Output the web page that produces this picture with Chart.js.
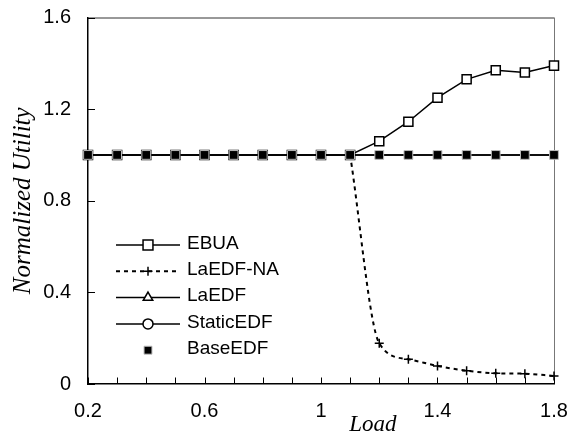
<!DOCTYPE html>
<html>
<head>
<meta charset="utf-8">
<script src="https://cdn.jsdelivr.net/npm/chart.js@4.4.1/dist/chart.umd.min.js"></script>
<style>
  html, body { margin: 0; padding: 0; background: #fff; }
</style>
</head>
<body>
<canvas id="chart" width="581" height="437"></canvas>
<script>
// Data
const loads = [0.2, 0.3, 0.4, 0.5, 0.6, 0.7, 0.8, 0.9, 1.0, 1.1, 1.2, 1.3, 1.4, 1.5, 1.6, 1.7, 1.8]
const ebua = [1.0, 1.0, 1.0, 1.0, 1.0, 1.0, 1.0, 1.0, 1.0, 1.0, 1.06, 1.145, 1.25, 1.33, 1.37, 1.36, 1.39]
const laedfNa = [null, null, null, null, null, null, null, null, null, 1.0, 0.178, 0.108, 0.079, 0.058, 0.047, 0.045, 0.035]
const laedf = [1.0, 1.0, 1.0, 1.0, 1.0, 1.0, 1.0, 1.0, 1.0, 1.0, 1.0, 1.0, 1.0, 1.0, 1.0, 1.0, 1.0]
const staticEdf = [1.0, 1.0, 1.0, 1.0, 1.0, 1.0, 1.0, 1.0, 1.0, 1.0, 1.0, 1.0, 1.0, 1.0, 1.0, 1.0, 1.0]
const baseEdf = [1.0, 1.0, 1.0, 1.0, 1.0, 1.0, 1.0, 1.0, 1.0, 1.0, 1.0, 1.0, 1.0, 1.0, 1.0, 1.0, 1.0]
const xLabelTicks = [0.2, 0.6, 1.0, 1.4, 1.8]
const yTicks = [0, 0.4, 0.8, 1.2, 1.6]

const toPoints = arr => loads.map((x, i) => ({ x: x, y: arr[i] }))
const sansFont = "'Liberation Sans', Arial, sans-serif"
const serifFont = "'Liberation Serif', 'Times New Roman', serif"

// frame (top/right) and inward tick marks
const framePlugin = {
  id: 'frame',
  beforeDatasetsDraw(chart) {
    const { ctx, chartArea: a, scales } = chart
    ctx.save()
    ctx.lineWidth = 1
    ctx.strokeStyle = '#333'
    ctx.beginPath()
    ctx.moveTo(a.left, a.top + 0.5)
    ctx.lineTo(a.right, a.top + 0.5)
    ctx.stroke()
    ctx.strokeStyle = '#777'
    ctx.beginPath()
    ctx.moveTo(a.right + 0.5, a.top)
    ctx.lineTo(a.right + 0.5, a.bottom)
    ctx.stroke()

    ctx.strokeStyle = '#000'
    ctx.lineWidth = 1
    scales.x.ticks.forEach(t => {
      const px = Math.round(scales.x.getPixelForValue(t.value)) + 0.5
      ctx.beginPath()
      ctx.moveTo(px, a.bottom)
      ctx.lineTo(px, a.bottom - 6.5)
      ctx.stroke()
    })
    scales.y.ticks.forEach(t => {
      const py = Math.round(scales.y.getPixelForValue(t.value)) + 0.5
      ctx.beginPath()
      ctx.moveTo(a.left, py)
      ctx.lineTo(a.left + 7, py)
      ctx.stroke()
    })
    ctx.restore()
  },
  afterDraw(chart) {
    // x axis title sits between the 1 and 1.4 labels in the reference
    const { ctx, scales } = chart
    ctx.save()
    ctx.font = 'italic 23px ' + serifFont
    ctx.fillStyle = '#000'
    ctx.textAlign = 'center'
    ctx.textBaseline = 'alphabetic'
    ctx.fillText('Load', scales.x.getPixelForValue(1.178), 431)
    ctx.restore()
  }
}

// legend with line + marker samples, placed inside the plot
const legendPlugin = {
  id: 'innerLegend',
  afterDraw(chart, args, opts) {
    const { ctx } = chart
    ctx.save()
    chart.data.datasets.forEach((ds, i) => {
      const y = opts.top + i * opts.step
      ctx.setLineDash(ds.borderDash || [])
      if (ds.showLine !== false) {
        ctx.strokeStyle = '#000'
        ctx.lineWidth = ds.borderWidth
        ctx.beginPath()
        ctx.moveTo(opts.x0, y)
        ctx.lineTo(opts.x1, y)
        ctx.stroke()
      }
      ctx.setLineDash([])
      ctx.fillStyle = ds.pointBackgroundColor
      ctx.strokeStyle = ds.pointBorderColor
      ctx.lineWidth = ds.pointBorderWidth
      Chart.helpers.drawPoint(ctx, {
        pointStyle: ds.pointStyle,
        radius: ds.legendRadius,
        rotation: 0,
        borderWidth: ds.pointBorderWidth
      }, (opts.x0 + opts.x1) / 2, y)
      ctx.fillStyle = '#000'
      ctx.font = '19px ' + sansFont
      ctx.textAlign = 'left'
      ctx.textBaseline = 'middle'
      ctx.fillText(ds.label, opts.textX, y - 1.5)
    })
    ctx.restore()
  }
}

new Chart(document.getElementById('chart'), {
  type: 'line',
  data: {
    datasets: [
      {
        label: 'EBUA',
        data: toPoints(ebua),
        borderColor: '#000',
        borderWidth: 1.5,
        pointStyle: 'rect',
        pointRadius: 6.4,
        legendRadius: 7,
        pointBackgroundColor: '#fff',
        pointBorderColor: '#000',
        pointBorderWidth: 1.5,
        tension: 0,
        clip: false,
        order: 1
      },
      {
        label: 'LaEDF-NA',
        data: toPoints(laedfNa),
        borderColor: '#000',
        borderWidth: 2,
        borderDash: [4, 4],
        pointStyle: 'cross',
        pointRadius: 4.5,
        legendRadius: 4.5,
        pointBackgroundColor: '#000',
        pointBorderColor: '#000',
        pointBorderWidth: 1.5,
        cubicInterpolationMode: 'monotone',
        clip: false,
        order: 2
      },
      {
        label: 'LaEDF',
        data: toPoints(laedf),
        borderColor: '#000',
        borderWidth: 1.5,
        pointStyle: 'triangle',
        pointRadius: 3.5,
        legendRadius: 5.5,
        pointBackgroundColor: '#fff',
        pointBorderColor: '#000',
        pointBorderWidth: 1.5,
        tension: 0,
        clip: false,
        order: 3
      },
      {
        label: 'StaticEDF',
        data: toPoints(staticEdf),
        borderColor: '#000',
        borderWidth: 1.5,
        pointStyle: 'circle',
        pointRadius: 3.5,
        legendRadius: 5,
        pointBackgroundColor: '#fff',
        pointBorderColor: '#000',
        pointBorderWidth: 1.5,
        tension: 0,
        clip: false,
        order: 4
      },
      {
        label: 'BaseEDF',
        data: toPoints(baseEdf),
        showLine: false,
        borderColor: '#000',
        borderWidth: 1,
        pointStyle: 'rect',
        pointRadius: 6.2,
        legendRadius: 5.6,
        pointBackgroundColor: '#000',
        pointBorderColor: '#bbb',
        pointBorderWidth: 1,
        clip: false,
        order: 0
      }
    ]
  },
  options: {
    responsive: false,
    animation: false,
    events: [],
    layout: { padding: { top: 17.5, right: 27, left: 0, bottom: 0 } },
    plugins: {
      legend: { display: false },
      tooltip: { enabled: false },
      innerLegend: { x0: 116, x1: 180, textX: 187, top: 245, step: 26.3 }
    },
    scales: {
      x: {
        type: 'linear',
        min: 0.2,
        max: 1.8,
        afterFit: s => {
          s.height = 53
          s.paddingLeft = 0
          s.paddingRight = 0
        },
        afterBuildTicks: s => {
          s.ticks = loads.map(v => ({ value: v }))
        },
        grid: { display: false, drawTicks: false },
        border: { display: true, color: '#000', width: 1.5 },
        ticks: {
          autoSkip: false,
          maxRotation: 0,
          padding: 15,
          color: '#000',
          font: { family: sansFont, size: 20 },
          callback: v => xLabelTicks.some(t => Math.abs(t - v) < 1e-6) ? String(Math.round(v * 10) / 10) : ''
        }
      },
      y: {
        type: 'linear',
        min: 0,
        max: 1.6,
        afterFit: s => {
          s.width = 88
          s.paddingTop = 0
          s.paddingBottom = 0
        },
        afterBuildTicks: s => {
          s.ticks = yTicks.map(v => ({ value: v }))
        },
        grid: { display: false, drawTicks: false },
        border: { display: true, color: '#000', width: 1.5 },
        title: {
          display: true,
          text: 'Normalized Utility',
          color: '#000',
          font: { family: serifFont, size: 25, style: 'italic' },
          padding: { top: 8, bottom: 0 }
        },
        ticks: {
          padding: 17,
          color: '#000',
          font: { family: sansFont, size: 20 },
          callback: v => String(Math.round(v * 10) / 10)
        }
      }
    }
  },
  plugins: [framePlugin, legendPlugin]
})
</script>
</body>
</html>
